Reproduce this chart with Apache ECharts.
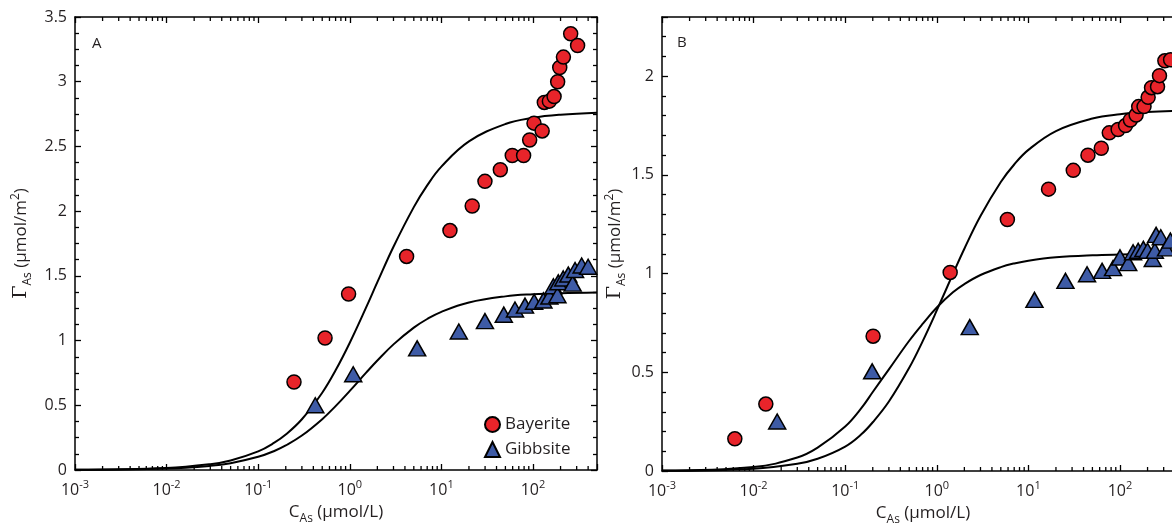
<!DOCTYPE html>
<html>
<head>
<meta charset="utf-8">
<script src="https://cdn.jsdelivr.net/npm/echarts@6/dist/echarts.min.js"></script>
<style>html,body{margin:0;padding:0;background:#fff}#c{width:1172px;height:529px}</style>
</head>
<body>
<div id="c"></div>
<script>
// ---------- data ----------
const xMin = 0.001, xMax = 500;
const yMaxA = 3.5, yMaxB = 2.3;

const bayeriteA = [[0.246,0.68],[0.537,1.02],[0.97,1.36],[4.17,1.65],[12.4,1.85],[21.7,2.04],[29.9,2.23],[44,2.32],[59.4,2.43],[79,2.43],[92,2.55],[102.6,2.68],[126,2.62],[133,2.84],[151,2.85],[170,2.885],[186,3.0],[196,3.11],[215,3.19],[258,3.37],[307,3.28]];
const gibbsiteA = [[0.42,0.50],[1.09,0.74],[5.44,0.94],[15.5,1.07],[29.9,1.15],[48,1.20],[63.6,1.24],[81.8,1.27],[103,1.30],[130,1.31],[151,1.34],[167,1.42],[185,1.35],[189,1.45],[214,1.48],[243,1.51],[271,1.44],[288,1.545],[340,1.58],[400,1.57]];
const bayeriteB = [[0.00624,0.163],[0.0136,0.339],[0.2017,0.683],[1.40,1.006],[5.9,1.274],[16.6,1.428],[30.9,1.523],[44.7,1.60],[62.5,1.635],[76.4,1.713],[95.5,1.73],[115,1.75],[130,1.778],[150,1.803],[160,1.846],[183,1.846],[203,1.893],[221,1.942],[257,1.947],[270,2.003],[309,2.078],[357,2.083]];
const gibbsiteB = [[0.0181,0.251],[0.197,0.505],[2.29,0.729],[11.65,0.867],[25.4,0.963],[43.7,0.997],[63.8,1.014],[84,1.028],[100,1.082],[123,1.053],[139,1.108],[158,1.116],[180,1.125],[200,1.116],[228,1.074],[240,1.116],[248,1.196],[279,1.184],[318,1.128],[355,1.167]];

// fitted model curves
const fitBayeriteA = [[0.001,0.0015],[0.01,0.015],[0.03,0.045],[0.05,0.074],[0.1,0.144],[0.15,0.211],[0.2,0.274],[0.3,0.392],[0.5,0.597],[0.7,0.770],[1,0.983],[1.5,1.252],[2,1.451],[3,1.725],[5,2.031],[7,2.199],[10,2.344],[20,2.539],[50,2.673],[100,2.721],[200,2.745],[500,2.760]];
const fitGibbsiteA = [[0.001,0.0011],[0.01,0.0109],[0.03,0.0322],[0.05,0.0529],[0.1,0.1019],[0.15,0.147],[0.2,0.1897],[0.3,0.2661],[0.5,0.3929],[0.7,0.4936],[1,0.6111],[1.5,0.75],[2,0.846],[3,0.9706],[5,1.10],[7,1.1667],[10,1.2222],[20,1.294],[50,1.3415],[100,1.358],[200,1.3665],[500,1.3716]];
const fitBayeriteB = [[0.001,0.0012],[0.01,0.012],[0.03,0.037],[0.05,0.062],[0.1,0.124],[0.15,0.186],[0.2,0.247],[0.3,0.352],[0.5,0.5229],[0.7,0.657],[1,0.8133],[1.5,0.9982],[2,1.1262],[3,1.2918],[5,1.464],[7,1.5527],[10,1.6267],[20,1.7222],[50,1.7854],[100,1.8074],[200,1.8186],[500,1.8254]];
const fitGibbsiteB = [[0.001,0.002],[0.01,0.020],[0.03,0.068],[0.05,0.118],[0.1,0.225],[0.15,0.318],[0.2,0.400],[0.3,0.515],[0.5,0.660],[0.7,0.745],[1,0.828],[1.5,0.905],[2,0.947],[3,0.993],[5,1.033],[7,1.0516],[10,1.0656],[20,1.0825],[50,1.093],[100,1.0965],[200,1.0982],[500,1.0993]];

// log-axis minor tick positions (2..9 x 10^k)
const minorMantissas = [2,3,4,5,6,7,8,9];
const decades = [-3,-2,-1,0,1,2];
const minorXTicks = [];
decades.forEach(d => minorMantissas.forEach(m => { const v = m * Math.pow(10, d); if (v < xMax) minorXTicks.push([v, 0]); }));

// ---------- styling ----------
const FONT = 'Open Sans';
const TXT = '#231f20';
const RED = '#e8242a';
const BLUE = '#3e5ba6';
const TICK = { color: '#000', width: 1.3 };

function logLabel(v) {
  const e = Math.log10(v), r = Math.round(e);
  if (Math.abs(e - r) > 1e-6) return '';
  return '{b|10}{s|' + r + '}';
}
const logRich = {
  b: { fontSize: 16, fontFamily: FONT, color: TXT },
  s: { fontSize: 11, fontFamily: FONT, color: TXT, padding: [0, 0, 12, 0] }
};
const nameRich = {
  t: { fontSize: 17, fontFamily: FONT, color: TXT },
  g: { fontSize: 19, fontFamily: 'DejaVu Serif', color: TXT },
  sub: { fontSize: 12, fontFamily: FONT, color: TXT, padding: [13, 0, 0, 0] },
  sup: { fontSize: 12, fontFamily: FONT, color: TXT, padding: [0, 0, 12, 0] }
};
const lineStyleAxis = { color: '#000', width: 1.5 };

function xAxisDef(grid, pos, withLabel) {
  return {
    type: 'log', logBase: 10, gridIndex: grid, position: pos, min: xMin, max: xMax,
    axisLine: { show: true, onZero: false, lineStyle: lineStyleAxis },
    axisTick: { show: true, inside: true, length: 6, lineStyle: TICK },
    minorTick: { show: false },
    splitLine: { show: false },
    axisLabel: withLabel ? { show: true, margin: 9, formatter: logLabel, rich: logRich } : { show: false },
    name: withLabel ? '{t|C}{sub|As}{t| (μmol/L)}' : '',
    nameLocation: 'middle', nameGap: 29,
    nameTextStyle: { rich: nameRich }
  };
}
function yAxisDef(grid, pos, max, split, withLabel, gap, useInterval) {
  const ax = {
    type: 'value', gridIndex: grid, position: pos, min: 0, max: max,
    axisLine: { show: true, onZero: false, lineStyle: lineStyleAxis },
    axisTick: { show: true, inside: true, length: 6, lineStyle: TICK },
    minorTick: { show: true, splitNumber: split, length: 4, lineStyle: TICK },
    splitLine: { show: false },
    axisLabel: withLabel ? {
      show: true, margin: 8, fontSize: 16, fontFamily: FONT, color: TXT,
      formatter: v => (Math.abs(v * 2 - Math.round(v * 2)) < 1e-6 ? String(v) : '')
    } : { show: false },
    name: withLabel ? '{g|Γ}{sub|As}{t| (μmol/m}{sup|2}{t|)}' : '',
    nameLocation: 'middle', nameGap: gap,
    nameTextStyle: { rich: nameRich }
  };
  if (useInterval) ax.interval = 0.5; else ax.splitNumber = 5;
  return ax;
}

function scatter(name, data, xi, yi, symbol, size, color) {
  return {
    name: name, type: 'scatter', xAxisIndex: xi, yAxisIndex: yi, data: data,
    symbol: symbol, symbolSize: size, z: 4,
    itemStyle: { color: color, borderColor: '#000', borderWidth: 1.5, opacity: 1 },
    emphasis: { disabled: true }
  };
}
function fit(name, data, xi, yi) {
  return {
    name: name, type: 'line', xAxisIndex: xi, yAxisIndex: yi, data: data,
    showSymbol: false, symbol: 'none', smooth: 0.4, z: 2,
    lineStyle: { color: '#000', width: 2 }, emphasis: { disabled: true }
  };
}
function minorTicks(xi, yi, yMax) {
  return {
    type: 'custom', xAxisIndex: xi, yAxisIndex: yi, data: minorXTicks, z: 6, silent: true,
    encode: { x: 0, y: 1 },
    renderItem: function (params, api) {
      const v = api.value(0);
      const pb = api.coord([v, 0]);
      const pt = api.coord([v, yMax]);
      const st = { stroke: '#000', lineWidth: 1.3 };
      return { type: 'group', children: [
        { type: 'line', shape: { x1: pb[0], y1: pb[1], x2: pb[0], y2: pb[1] - 4 }, style: st },
        { type: 'line', shape: { x1: pt[0], y1: pt[1], x2: pt[0], y2: pt[1] + 4 }, style: st }
      ] };
    },
    clip: false
  };
}

const chart = echarts.init(document.getElementById('c'), null, { renderer: 'canvas' });
chart.setOption({
  backgroundColor: '#fff',
  animation: false,
  textStyle: { fontFamily: FONT },
  grid: [
    { left: 75, top: 17, width: 522, height: 453, containLabel: false, outerBoundsMode: 'none' },
    { left: 662, top: 17, width: 522, height: 454, containLabel: false, outerBoundsMode: 'none' }
  ],
  xAxis: [
    xAxisDef(0, 'bottom', true), xAxisDef(0, 'top', false),
    xAxisDef(1, 'bottom', true), xAxisDef(1, 'top', false)
  ],
  yAxis: [
    yAxisDef(0, 'left', yMaxA, 4, true, 41, true), yAxisDef(0, 'right', yMaxA, 4, false, 0, true),
    yAxisDef(1, 'left', yMaxB, 5, true, 30, false)
  ],
  legend: {
    orient: 'vertical', left: 479, top: 411, itemWidth: 15, itemHeight: 15, itemGap: 8,
    textStyle: { fontSize: 17, fontFamily: FONT, color: TXT },
    data: ['Bayerite', 'Gibbsite'], selectedMode: false
  },
  graphic: [
    { type: 'text', left: 92, top: 36, style: { text: 'A', fontSize: 15, fontFamily: FONT, fill: TXT } },
    { type: 'text', left: 677, top: 35, style: { text: 'B', fontSize: 15, fontFamily: FONT, fill: TXT } }
  ],
  series: [
    fit('fitBayeriteA', fitBayeriteA, 0, 0),
    fit('fitGibbsiteA', fitGibbsiteA, 0, 0),
    scatter('Bayerite', bayeriteA, 0, 0, 'circle', 14, RED),
    scatter('Gibbsite', gibbsiteA, 0, 0, 'triangle', [17, 15], BLUE),
    minorTicks(0, 0, yMaxA),
    fit('fitBayeriteB', fitBayeriteB, 2, 2),
    fit('fitGibbsiteB', fitGibbsiteB, 2, 2),
    scatter('Bayerite', bayeriteB, 2, 2, 'circle', 14, RED),
    scatter('Gibbsite', gibbsiteB, 2, 2, 'triangle', [17, 15], BLUE),
    minorTicks(2, 2, yMaxB)
  ]
});
</script>
</body>
</html>
